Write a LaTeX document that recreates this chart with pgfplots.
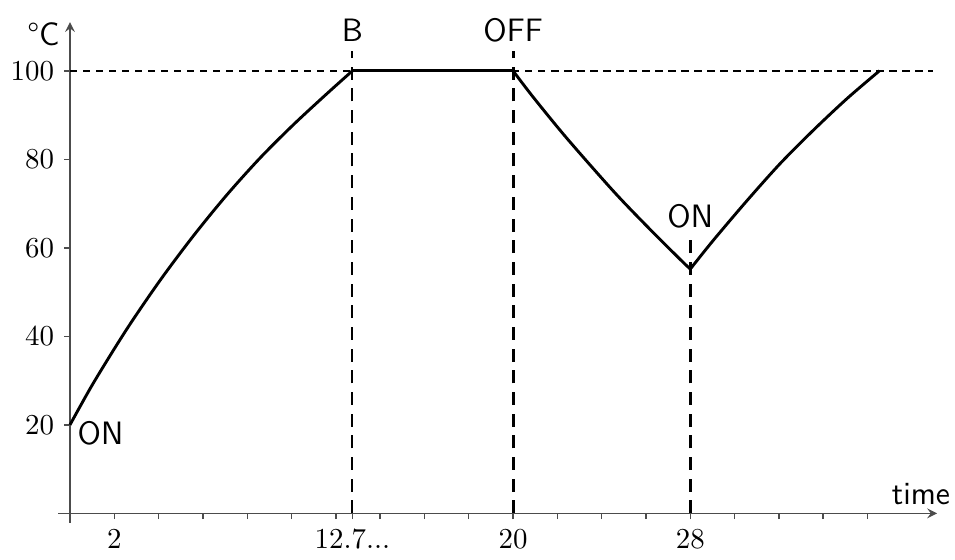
\documentclass[border=0pt]{standalone}
\usepackage{pgfplots}
\pgfplotsset{compat=1.18}
\begin{document}
\begin{tikzpicture}[lbl/.style={font=\sffamily\fontsize{11.2}{13}\selectfont}]
\begin{axis}[
  x=7.664pt, y=1.531pt,
  axis lines=middle,
  axis line style={black!70, line width=0.5pt},
  xmin=-0.54, xmax=39.14, ymin=-2.15, ymax=111,
  xtick={2,12.75,20,28},
  xticklabels={2,12.7{.}{.}{.},20,28},
  minor xtick={4,6,...,36},
  ytick={20,40,60,80,100},
  tick align=outside,
  major tick length=2pt, minor tick length=2pt,
  every tick/.style={black!70, line width=0.5pt},
  clip=false,
]
% reference levels
\addplot[black, line width=0.7pt, dash pattern=on 2.5pt off 2pt] coordinates {(0,100) (38.95,100)};
\addplot[black, line width=0.7pt, dash pattern=on 4.5pt off 3pt] coordinates {(12.75,0) (12.75,104.4)};
\addplot[black, line width=1pt, dash pattern=on 4.5pt off 3pt] coordinates {(20,0) (20,104.4)};
\addplot[black, line width=1pt, dash pattern=on 4.5pt off 3pt] coordinates {(28,0) (28,62.3)};

% temperature: heating, holding, cooling, reheating
\addplot[black, line width=1pt, smooth] coordinates {
  (0,20) (1.05,29.4) (2.56,41.6) (4.06,52.6) (5.57,62.7) (7.07,71.9)
  (8.58,80.3) (10.08,87.8) (11.59,94.8) (12.75,100)};
\addplot[black, line width=1pt] coordinates {(12.75,100) (20,100)};
\addplot[black, line width=1pt, smooth] coordinates {
  (20,100) (20.9,94.1) (22.42,84.8) (24.53,72.8) (26.04,64.9) (27.54,57.4) (28,55.2)};
\addplot[black, line width=1pt, smooth] coordinates {
  (28,55.2) (29.04,61.7) (30.55,70.6) (32.05,79.0) (33.56,86.6) (35.07,93.7) (36.54,100)};

% annotations
\node[anchor=base, lbl] at (axis cs:12.75,106.6) {B};
\node[anchor=base, lbl] at (axis cs:20,106.6) {OFF};
\node[anchor=base, lbl] at (axis cs:28,64.7) {ON};
\node[anchor=base west, lbl, inner sep=0pt] at (axis cs:0.32,15.5) {ON};
\node[anchor=base east, lbl, inner sep=0pt] at (axis cs:39.75,1.9) {time};
\node[anchor=base east, lbl, inner sep=0pt] at (axis cs:-0.45,105.8) {\textdegree C};

% page extent
\path (axis cs:-3.16,-8.93) rectangle (axis cs:39.95,116);
\end{axis}
\end{tikzpicture}
\end{document}
